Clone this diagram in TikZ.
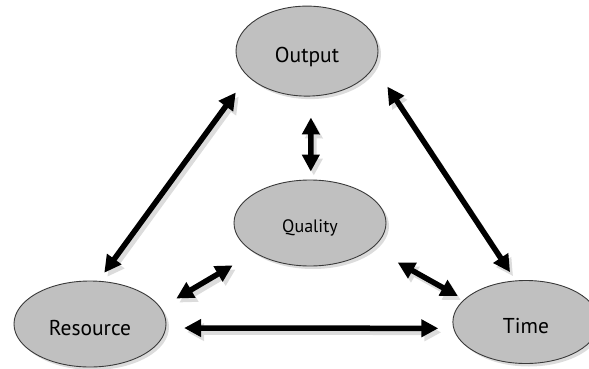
\documentclass[tikz,border=0pt]{standalone}
\usepackage{fontspec}
\setmainfont{PT Sans}
\usetikzlibrary{positioning,arrows.meta,shapes.geometric,shadows}
\definecolor{cFill}{HTML}{C0C0C0}
\definecolor{cLine}{HTML}{3A3A3A}
\definecolor{cShade}{HTML}{DCDCDC}
\tikzset{
  goal/.style={ellipse,draw=cLine,fill=cFill,line width=0.9pt,inner sep=0pt,text height=22pt,text depth=0pt,minimum width=152pt,minimum height=86pt,font=\fontsize{21.5}{24}\selectfont,drop shadow={shadow xshift=3pt,shadow yshift=-3pt,fill=cShade,opacity=1}},
  link/.style={{Triangle[length=17pt,width=17pt]}-{Triangle[length=17pt,width=17pt]},line width=5.5pt},
  linkshade/.style={link,draw=cShade,transform canvas={shift={(3pt,-4pt)}}},
}

\begin{document}
\begin{tikzpicture}[x=1pt,y=1pt]
  \useasboundingbox (0,0) rectangle (589,368);
  \node[goal,font=\fontsize{18}{21}\selectfont,text height=19pt] (qual) at (310,145) {Quality};
  \node[goal,minimum width=142pt,minimum height=90pt,above=83pt of qual,xshift=-3pt] (out) {Output};
  \node[goal] (res) at (90,44) {Resource};
  \node[goal,minimum width=146pt,minimum height=83pt,right=286pt of res,yshift=2pt] (time) {Time};
  % two-way links, shadow first
  \foreach \from/\to/\sa/\sb in {res.79/out.203/10/20, out.347/time.104/24/10, res.357/time.185/18/15,
                                 out.275/qual.89/21/8, qual.208/res.13/25/18, qual.338/time.160/29/7} {
    \draw[linkshade,shorten <=\sa pt,shorten >=\sb pt] (\from) -- (\to);
    \draw[link,shorten <=\sa pt,shorten >=\sb pt] (\from) -- (\to);
  }
\end{tikzpicture}
\end{document}
